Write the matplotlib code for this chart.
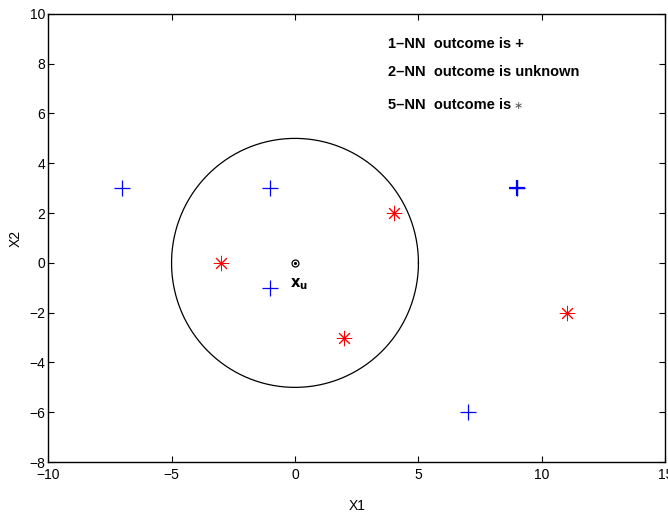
import numpy as np
import matplotlib
matplotlib.use("Agg")
import matplotlib.pyplot as plt

plt.rcParams['font.family'] = ['Liberation Sans', 'DejaVu Sans']

# training points, class "+"
plus_x = [-7, -1, -1, 9, 7]
plus_y = [3, 3, -1, 3, -6]

# training points, class "*"
star_x = [-3, 4, 2, 11]
star_y = [0, 2, -3, -2]

# unknown point and neighbourhood radius
xu = (0, 0)
radius = 5

notes = ['1\u2013NN  outcome is +',
         '2\u2013NN  outcome is unknown',
         '5\u2013NN  outcome is']
note_y = [8.8, 7.65, 6.35]

fig = plt.figure(figsize=(6.68, 5.14), dpi=100)
ax = fig.add_axes([0.072, 0.101, 0.924, 0.872])

ax.plot(plus_x, plus_y, linestyle='none', marker='+', color='blue',
        markersize=11.5, markeredgewidth=0.9)
ax.plot([9], [3], linestyle='none', marker='+', color='blue',
        markersize=11.5, markeredgewidth=1.6)
ax.plot(star_x, star_y, linestyle='none', marker=(8, 2, 0), color='red',
        markersize=11, markeredgewidth=0.7)

t = np.linspace(0, 2 * np.pi, 400)
ax.plot(xu[0] + radius * np.cos(t), xu[1] + radius * np.sin(t),
        color='black', linewidth=0.9)

ax.plot(xu[0], xu[1], marker='o', markersize=5, markerfacecolor='none',
        markeredgecolor='black', markeredgewidth=0.9, linestyle='none')
ax.plot(xu[0], xu[1], marker='.', markersize=2.5, color='black', linestyle='none')
ax.text(-0.22, -0.85, r'$\mathbf{x_u}$', fontsize=10.5, va='center', ha='left')

for s, y in zip(notes, note_y):
    ax.text(3.75, y, s, fontsize=10.5, fontweight='bold', va='center', ha='left')
# small grey asterisk closing the last line
ax.text(8.85, note_y[2] - 0.05, '\u2217', fontsize=8, color='0.35',
        va='center', ha='left', family='DejaVu Sans')

ax.set_xlim(-10, 15)
ax.set_ylim(-8, 10)
ax.set_xticks([-10, -5, 0, 5, 10, 15])
ax.set_yticks([-8, -6, -4, -2, 0, 2, 4, 6, 8, 10])
ax.set_xticklabels(['\u221210', '\u22125', '0', '5', '10', '15'])
ax.set_yticklabels(['\u22128', '\u22126', '\u22124', '\u22122', '0', '2', '4', '6', '8', '10'])
ax.tick_params(direction='in', length=4.5, width=0.8, labelsize=10,
               top=True, right=True, pad=2)
ax.tick_params(axis='x', pad=4.5)
for sp in ax.spines.values():
    sp.set_linewidth(1.0)

ax.set_xlabel('X1', fontsize=10, labelpad=12)
ax.set_ylabel('X2', fontsize=10, labelpad=5)

fig.savefig('out.png', dpi=100)
